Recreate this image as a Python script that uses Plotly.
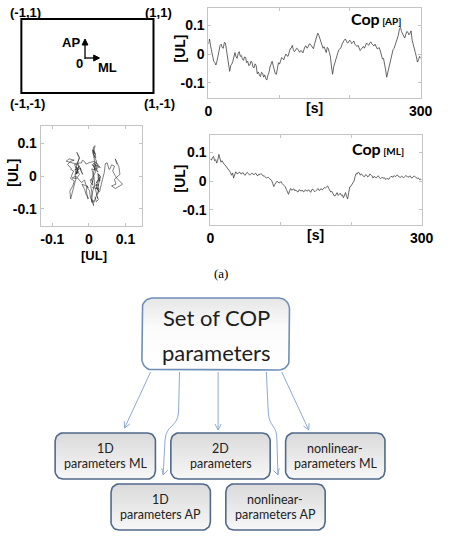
import numpy as np
import plotly.graph_objects as go

W, H = 450, 546

# ---------------- data ----------------
# samples every 3 s (0..300) and the in-between samples (1.5, 4.5, ..., 298.5)
t_main = list(range(0, 301, 3))

cop_ap = [
    0.035, 0.028, -0.010, -0.030, -0.025, 0.015, 0.034, 0.020, 0.038, -0.020,
    -0.060, -0.035, -0.002, -0.010, 0.002, -0.008, -0.017, -0.010, -0.030, -0.040,
    -0.025, -0.045, -0.034, -0.068, -0.072, -0.063, -0.080, -0.085, -0.074, -0.045,
    -0.025, -0.055, -0.070, -0.030, -0.025, -0.015, -0.008, -0.006, 0.005, 0.020,
    0.015, 0.012, 0.018, 0.006, 0.010, 0.014, 0.028, 0.025, 0.034, 0.023,
    0.035, 0.055, 0.065, 0.040, 0.020, 0.011, 0.023, 0.005, -0.045, -0.045,
    -0.015, 0.005, 0.020, 0.035, 0.048, 0.045, 0.040, 0.044, 0.040, 0.034,
    0.026, 0.020, 0.017, 0.026, 0.030, 0.034, 0.038, 0.035, 0.028, 0.025,
    0.020, 0.011, -0.017, -0.030, -0.080, -0.040, -0.015, 0.015, 0.030, 0.055,
    0.088, 0.078, 0.060, 0.068, 0.075, 0.072, 0.048, 0.017, -0.010, -0.020,
    -0.015,
]
cop_ap_mid = [
    0.052, 0.005, -0.025, -0.038, -0.005, 0.030, 0.022, 0.040, 0.010, -0.045,
    -0.040, -0.025, 0.005, -0.015, 0.008, -0.005, -0.022, -0.012, -0.025, -0.038,
    -0.028, -0.048, -0.040, -0.062, -0.078, -0.066, -0.072, -0.090, -0.065, -0.030,
    -0.040, -0.068, -0.045, -0.035, -0.012, -0.020, 0.000, -0.008, 0.018, 0.030,
    0.008, 0.020, 0.012, 0.012, 0.004, 0.026, 0.020, 0.035, 0.028, 0.018,
    0.045, 0.072, 0.055, 0.034, 0.025, 0.005, 0.018, -0.010, -0.070, -0.030,
    -0.008, 0.015, 0.022, 0.045, 0.052, 0.038, 0.048, 0.036, 0.045, 0.028,
    0.030, 0.012, 0.024, 0.020, 0.038, 0.030, 0.042, 0.030, 0.034, 0.018,
    0.022, -0.005, -0.015, -0.055, -0.065, -0.030, 0.000, 0.020, 0.045, 0.065,
    0.092, 0.070, 0.055, 0.078, 0.066, 0.080, 0.030, 0.005, -0.028, -0.008,
]

cop_ml = [
    0.077, 0.082, 0.070, 0.062, 0.092, 0.065, 0.062, 0.055, 0.045, 0.035,
    0.020, 0.010, 0.032, 0.025, 0.030, 0.028, 0.022, 0.027, 0.025, 0.022,
    0.026, 0.025, 0.020, 0.024, 0.026, 0.017, 0.014, 0.012, 0.008, 0.002,
    -0.019, -0.008, -0.003, -0.005, -0.009, -0.016, -0.030, -0.046, -0.026, -0.030,
    -0.034, -0.036, -0.030, -0.035, -0.037, -0.030, -0.035, -0.036, -0.030, -0.034,
    -0.033, -0.026, -0.030, -0.031, -0.022, -0.019, -0.025, -0.038, -0.045, -0.052,
    -0.040, -0.046, -0.050, -0.058, -0.040, -0.062, -0.020, -0.012, 0.000, 0.026,
    0.031, 0.020, 0.020, 0.015, 0.020, 0.017, 0.022, 0.010, 0.014, 0.015,
    0.012, 0.010, 0.009, 0.005, 0.008, 0.012, 0.015, 0.019, 0.018, 0.016,
    0.012, 0.014, 0.015, 0.017, 0.014, 0.012, 0.015, 0.014, 0.009, 0.005,
    0.003,
]
cop_ml_mid = [
    0.072, 0.085, 0.074, 0.072, 0.075, 0.070, 0.058, 0.050, 0.042, 0.030,
    0.028, 0.022, 0.026, 0.030, 0.024, 0.029, 0.020, 0.030, 0.021, 0.027,
    0.021, 0.027, 0.018, 0.022, 0.020, 0.018, 0.010, 0.013, 0.004, -0.008,
    -0.012, -0.001, -0.007, -0.002, -0.012, -0.020, -0.036, -0.034, -0.032, -0.027,
    -0.031, -0.038, -0.033, -0.031, -0.036, -0.034, -0.030, -0.039, -0.028, -0.037,
    -0.029, -0.033, -0.026, -0.028, -0.024, -0.017, -0.030, -0.036, -0.050, -0.044,
    -0.050, -0.042, -0.048, -0.050, -0.054, -0.040, -0.018, -0.008, 0.015, 0.024,
    0.028, 0.025, 0.016, 0.022, 0.014, 0.024, 0.018, 0.016, 0.010, 0.018,
    0.008, 0.014, 0.011, 0.009, 0.006, 0.016, 0.013, 0.015, 0.021, 0.014,
    0.017, 0.011, 0.019, 0.013, 0.018, 0.010, 0.017, 0.012, 0.011, 0.007,
]

time_ticks = [0, 100, 200, 300]
time_ticktext = ["0", "", "", "300"]
ul_ticks = [-0.1, 0, 0.1]
ul_ticktext = ["-0.1", "0", "0.1"]

corner_labels = ["(-1,1)", "(1,1)", "(-1,-1)", "(1,-1)"]

param_boxes = [
    ("1D", "parameters ML"),
    ("2D", "parameters"),
    ("nonlinear-", "parameters ML"),
    ("1D", "parameters AP"),
    ("nonlinear-", "parameters AP"),
]

# merge the two sample sets into one time-ordered table
t_sec, ap_all, ml_all = [], [], []
for i, t in enumerate(t_main):
    t_sec.append(t); ap_all.append(cop_ap[i]); ml_all.append(cop_ml[i])
    if i < len(cop_ap_mid):
        t_sec.append(t + 1.5); ap_all.append(cop_ap_mid[i]); ml_all.append(cop_ml_mid[i])


# ---------------- helpers ----------------
def dom_x(a, b):
    return [a / W, b / W]


def dom_y(top, bottom):
    return [1 - bottom / H, 1 - top / H]


BOLD = "Liberation Sans"
axfont = dict(family=BOLD, size=14, color="black", weight="bold")
frame = dict(showline=True, linecolor="#c4c4c4", linewidth=1, mirror="ticks",
             ticks="inside", ticklen=3, tickcolor="#c4c4c4", showgrid=False,
             zeroline=False, tickfont=axfont, fixedrange=True)

fig = go.Figure()

# time series
fig.add_trace(go.Scatter(x=t_sec, y=ap_all, mode="lines", xaxis="x", yaxis="y",
                         line=dict(color="#404040", width=0.8), hoverinfo="skip"))
fig.add_trace(go.Scatter(x=t_sec, y=ml_all, mode="lines", xaxis="x2", yaxis="y2",
                         line=dict(color="#404040", width=0.8), hoverinfo="skip"))
# stabilogram (ML vs AP)
fig.add_trace(go.Scatter(x=ml_all, y=ap_all, mode="lines", xaxis="x3", yaxis="y3",
                         line=dict(color="#2a2a2a", width=0.6), hoverinfo="skip"))


def rrect(x0, y0, x1, y1, r, n=10):
    xs, ys = [], []
    corners = [(x1 - r, y0 + r, -90, 0), (x1 - r, y1 - r, 0, 90),
               (x0 + r, y1 - r, 90, 180), (x0 + r, y0 + r, 180, 270)]
    for cx, cy, a0, a1 in corners:
        for a in np.linspace(np.radians(a0), np.radians(a1), n):
            xs.append(cx + r * np.cos(a))
            ys.append(cy + r * np.sin(a))
    xs.append(xs[0]); ys.append(ys[0])
    return xs, ys


def add_box(x0, y0, x1, y1, r, border, cs):
    xs, ys = rrect(x0, y0, x1, y1, r)
    fig.add_trace(go.Scatter(x=xs, y=ys, mode="lines", xaxis="x5", yaxis="y5",
                             fill="toself",
                             fillgradient=dict(type="vertical", colorscale=cs),
                             line=dict(color=border, width=1.6), hoverinfo="skip"))


grey_cs = [[0, "#f7f7f7"], [1, "#dadada"]]
top_cs = [[0, "#ffffff"], [0.6, "#fbfbfb"], [1, "#e6e6e6"]]

add_box(143, 298, 296, 370, 11, "#6f8fb8", top_cs)
box_geom = [(53, 433, 157, 479), (173, 433, 276, 479), (292, 433, 395, 479),
            (111, 484, 214, 530), (230, 484, 333, 530)]
for (x0, y0, x1, y1) in box_geom:
    add_box(x0, y0, x1, y1, 8, "#51698b", grey_cs)

shapes = []
ann = []


def txt(x, y, s, size=13, family=BOLD, weight="bold", color="black", angle=0):
    ann.append(dict(x=x, y=y, xref="x5", yref="y5", text=s, showarrow=False,
                    xanchor="center", yanchor="middle", textangle=angle,
                    font=dict(family=family, size=size, color=color, weight=weight)))


def vhead(tx, ty, dx, dy, color, L=6, w=3.2, filled=False):
    u = np.array([dx, dy], float)
    u /= np.linalg.norm(u)
    p = np.array([-u[1], u[0]])
    a = np.array([tx, ty]) - L * u + w * p
    b = np.array([tx, ty]) - L * u - w * p
    if filled:
        path = f"M{a[0]},{a[1]} L{tx},{ty} L{b[0]},{b[1]} Z"
        shapes.append(dict(type="path", path=path, xref="x5", yref="y5",
                           line=dict(color=color, width=1), fillcolor=color))
    else:
        path = f"M{a[0]},{a[1]} L{tx},{ty} L{b[0]},{b[1]}"
        shapes.append(dict(type="path", path=path, xref="x5", yref="y5",
                           line=dict(color=color, width=1)))


# ---------- top-left schematic ----------
shapes.append(dict(type="rect", x0=18, y0=19, x1=155, y1=93, xref="x5", yref="y5",
                   line=dict(color="black", width=2)))
for (x, y), s in zip([(22, 12), (160, 12), (24, 103), (161, 103)], corner_labels):
    txt(x, y, s, size=13)
shapes.append(dict(type="line", x0=84, y0=59, x1=84, y1=44, xref="x5", yref="y5",
                   line=dict(color="black", width=1.3)))
vhead(84, 39, 0, -1, "black", L=6, w=3, filled=True)
shapes.append(dict(type="line", x0=84, y0=58, x1=94, y1=58, xref="x5", yref="y5",
                   line=dict(color="black", width=1.3)))
vhead(99, 58, 1, 0, "black", L=6, w=3, filled=True)
txt(69, 42, "AP", size=13)
txt(78, 63, "0", size=13)
txt(107, 67, "ML", size=13)

# ---------- axis titles / labels for plots ----------
txt(183, 48, "[UL]", size=14, angle=-90)
txt(322, 108, "[s]", size=14)
txt(183, 178, "[UL]", size=14, angle=-90)
txt(323, 235, "[s]", size=14)
txt(9, 173, "[UL]", size=14, angle=-90)
txt(93, 255, "[UL]", size=13)
ann.append(dict(x=386, y=18, xref="x5", yref="y5", showarrow=False,
                xanchor="center", yanchor="middle",
                text="<b>Cop</b><b><span style='font-size:10px'> [AP]</span></b>",
                font=dict(family="Lato", size=16, color="black")))
ann.append(dict(x=388, y=148, xref="x5", yref="y5", showarrow=False,
                xanchor="center", yanchor="middle",
                text="<b>Cop</b><b><span style='font-size:10px'> [ML]</span></b>",
                font=dict(family="Lato", size=16, color="black")))

txt(225, 273, "(a)", size=13, family="Liberation Serif", weight="normal")
txt(225, 549, "(b)", size=13, family="Liberation Serif", weight="normal")

# ---------- diagram text ----------
txt(220, 317, "Set of COP", size=22, family="Lato", weight="normal", color="#1e1e1e")
txt(220, 352, "parameters", size=22, family="Lato", weight="normal", color="#1e1e1e")
for (x0, y0, x1, y1), (l1, l2) in zip(box_geom, param_boxes):
    cx, cy = (x0 + x1) / 2, (y0 + y1) / 2
    txt(cx, cy - 7.5, l1, size=12.5, family="Lato", weight="normal", color="#222")
    txt(cx, cy + 7.5, l2, size=12.5, family="Lato", weight="normal", color="#222")

# ---------- diagram arrows ----------
AC = "#8eaad0"
arrow_paths = [
    ("M152,372 L125,428", (125, 428), (-27, 56)),
    ("M182,372 L181,412 C180,428 168,424 167,440 L165,475", (165, 475), (-0.3, 1)),
    ("M222,372 L222,430", (222, 430), (0, 1)),
    ("M272,372 L274,412 C275,428 283,424 283,440 L284,475", (284, 475), (0.3, 1)),
    ("M288,372 L316,430", (316, 430), (28, 58)),
]
for p, (tx, ty), (dx, dy) in arrow_paths:
    shapes.append(dict(type="path", path=p, xref="x5", yref="y5",
                       line=dict(color=AC, width=1)))
    vhead(tx, ty, dx, dy, AC)

fig.update_layout(
    width=W, height=H, margin=dict(l=0, r=0, t=0, b=0),
    paper_bgcolor="white", plot_bgcolor="rgba(0,0,0,0)",
    showlegend=False, hovermode=False,
    xaxis=dict(domain=dom_x(212, 432), range=[0, 300], tickvals=time_ticks,
               ticktext=time_ticktext, anchor="y", **frame),
    yaxis=dict(domain=dom_y(8, 98), range=[-0.152, 0.159], tickvals=ul_ticks,
               ticktext=ul_ticktext, anchor="x", **frame),
    xaxis2=dict(domain=dom_x(214, 433), range=[0, 300], tickvals=time_ticks,
                ticktext=time_ticktext, anchor="y2", **frame),
    yaxis2=dict(domain=dom_y(135, 225), range=[-0.152, 0.159], tickvals=ul_ticks,
                ticktext=ul_ticktext, anchor="x2", **frame),
    xaxis3=dict(domain=dom_x(38, 143), range=[-0.132, 0.145], tickvals=ul_ticks,
                ticktext=ul_ticktext, anchor="y3", **frame),
    yaxis3=dict(domain=dom_y(126, 226), range=[-0.152, 0.152], tickvals=ul_ticks,
                ticktext=ul_ticktext, anchor="x3", **frame),
    xaxis5=dict(domain=[0, 1], range=[0, W], visible=False, anchor="y5", fixedrange=True),
    yaxis5=dict(domain=[0, 1], range=[H, 0], visible=False, anchor="x5", fixedrange=True),
    shapes=shapes, annotations=ann,
)

fig.write_html("out.html")
